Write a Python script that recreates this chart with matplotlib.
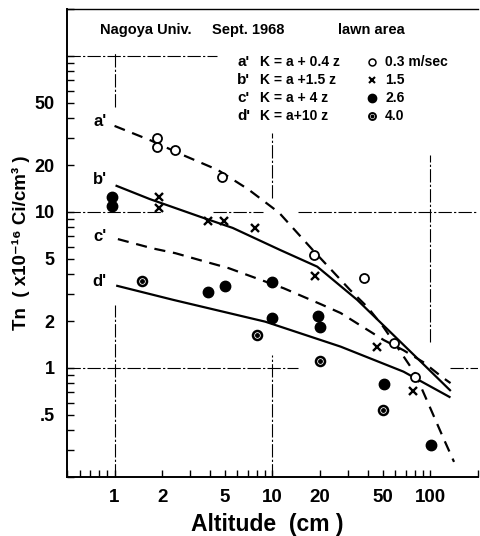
import numpy as np
import matplotlib
matplotlib.use("Agg")
import matplotlib.pyplot as plt
from matplotlib.ticker import FixedLocator, LogLocator, NullFormatter

plt.rcParams['font.family'] = ['Liberation Sans', 'DejaVu Sans']
plt.rcParams['font.weight'] = 'bold'

# observed Tn (x1e-16 Ci/cm3) vs altitude (cm), by wind speed
x_03 = [1.85, 1.85, 2.4, 4.8, 18.4, 38, 58.6, 80]
y_03 = [30, 26.2, 25, 16.7, 5.3, 3.75, 1.44, 0.88]
x_15 = [1.9, 1.9, 3.9, 4.9, 7.8, 18.7, 46, 78]
y_15 = [12.5, 10.6, 8.7, 8.7, 7.9, 3.9, 1.36, 0.71]
x_26 = [0.97, 0.97, 3.9, 5.0, 10, 10, 19.5, 20, 51, 101]
y_26 = [12.4, 10.9, 3.07, 3.36, 3.57, 2.08, 2.15, 1.84, 0.79, 0.32]
x_40 = [1.5, 8.0, 20, 50]
y_40 = [3.6, 1.63, 1.11, 0.54]

# calculated profiles a' .. d'
a_x = [1.0, 1.7, 2.7, 4.5, 7.0, 11, 18, 31, 40, 50, 62, 80, 100, 120, 141]
a_y = [35.6, 28.7, 23.2, 18.6, 14.0, 9.9, 5.7, 3.16, 2.45, 1.85, 1.35, 0.92, 0.55, 0.36, 0.25]
b_x = [1.03, 1.67, 3.5, 5.6, 11.2, 19.2, 34.4, 50, 80, 133]
b_y = [14.7, 12.1, 9.3, 7.9, 5.7, 4.46, 2.73, 1.89, 1.19, 0.72]
c_x = [1.05, 1.73, 2.43, 3.76, 5.29, 11.8, 20.1, 27, 50.6, 67.4, 90, 121, 134]
c_y = [6.7, 5.85, 5.44, 4.80, 4.36, 3.24, 2.57, 2.25, 1.51, 1.30, 1.09, 0.86, 0.80]
d_x = [1.04, 2.36, 9.0, 27, 67.5, 132]
d_y = [3.36, 2.73, 1.98, 1.37, 0.947, 0.652]

x_ticks = [1, 2, 5, 10, 20, 50, 100]
y_ticks = [0.5, 1, 2, 5, 10, 20, 50]
y_ticklabels = ['.5', '1', '2', '5', '10', '20', '50']

fig = plt.figure(figsize=(4.81, 5.36), dpi=100, facecolor="white")
ax = fig.add_axes([67/481, 59/536, 411/481, 468/536])
ax.set_xscale("log")
ax.set_yscale("log")
ax.set_xlim(0.5, 200)
ax.set_ylim(0.2, 200)

# broken reference lines at the decades
gl = dict(color="black", lw=0.8, ls=(0, (12, 2, 2, 2)))
ax.axhline(100, 0, 0.365, **gl)
for lo, hi in [(0, 0.229), (0.355, 0.477), (0.562, 1.0)]:
    ax.axhline(10, lo, hi, **gl)
for lo, hi in [(0, 0.562), (0.932, 1.0)]:
    ax.axhline(1, lo, hi, **gl)
for lo, hi in [(0.791, 0.908), (0, 0.368)]:
    ax.axvline(1, lo, hi, **gl)
for lo, hi in [(0.596, 0.735), (0, 0.261)]:
    ax.axvline(10, lo, hi, **gl)
ax.axvline(100, 0.288, 0.688, **gl)

dash = (0, (5, 3.5))
ax.plot(a_x, a_y, c="black", lw=1.6, ls=dash)
ax.plot(b_x, b_y, c="black", lw=1.6)
ax.plot(c_x, c_y, c="black", lw=1.6, ls=dash)
ax.plot(d_x, d_y, c="black", lw=1.6)

ax.plot(x_03, y_03, "o", ms=6.5, mfc="white", mec="black", mew=1.3)
ax.plot(x_15, y_15, "x", ms=5.5, mec="black", mew=1.7)
ax.plot(x_26, y_26, "o", ms=7.5, mfc="black", mec="black")
ax.plot(x_40, y_40, "o", ms=6.5, mfc="white", mec="black", mew=1.8)
ax.plot(x_40, y_40, "o", ms=2.5, mfc="black", mec="black")

# curve labels
for s, yy in [("a'", 0.759), ("b'", 0.635), ("c'", 0.513), ("d'", 0.417)]:
    ax.text(0.080, yy, s, transform=ax.transAxes, fontsize=12, ha="center", va="center")

# header and key
ax.text(0.080, 0.955, "Nagoya Univ.", transform=ax.transAxes, fontsize=10.5, va="center")
ax.text(0.353, 0.955, "Sept. 1968", transform=ax.transAxes, fontsize=10.5, va="center")
ax.text(0.659, 0.955, "lawn area", transform=ax.transAxes, fontsize=10.5, va="center")

key_letters = ["a'", "b'", "c'", "d'"]
key_formulas = ["K = a + 0.4 z", "K = a +1.5 z", "K = a + 4 z", "K = a+10 z"]
key_speeds = ["0.3 m/sec", "1.5", "2.6", "4.0"]
rows = [0.887, 0.848, 0.810, 0.771]
for i in range(4):
    ax.text(0.414, rows[i], key_letters[i], transform=ax.transAxes, fontsize=11, va="center")
    ax.text(0.470, rows[i], key_formulas[i], transform=ax.transAxes, fontsize=10, va="center")
    ax.text(0.774, rows[i], key_speeds[i], transform=ax.transAxes, fontsize=10, va="center")
mx = 0.742
ax.plot([mx], [rows[0]], "o", ms=5, mfc="white", mec="black", mew=1.1, transform=ax.transAxes)
ax.plot([mx], [rows[1]], "x", ms=4, mec="black", mew=1.5, transform=ax.transAxes)
ax.plot([mx], [rows[2]], "o", ms=6, mfc="black", mec="black", transform=ax.transAxes)
ax.plot([mx], [rows[3]], "o", ms=5, mfc="white", mec="black", mew=1.4, transform=ax.transAxes)
ax.plot([mx], [rows[3]], "o", ms=1.8, mfc="black", mec="black", transform=ax.transAxes)

# axes styling
ax.spines["right"].set_visible(False)
ax.spines["top"].set_linewidth(1.0)
ax.spines["left"].set_linewidth(1.4)
ax.spines["bottom"].set_linewidth(1.4)

ax.xaxis.set_major_locator(FixedLocator(x_ticks))
ax.set_xticklabels([str(v) for v in x_ticks])
ax.xaxis.set_minor_locator(LogLocator(base=10, subs=np.arange(1, 10)))
ax.xaxis.set_minor_formatter(NullFormatter())
ax.yaxis.set_major_locator(FixedLocator(y_ticks))
ax.set_yticklabels(y_ticklabels)
ax.yaxis.set_minor_locator(LogLocator(base=10, subs=np.arange(1, 10)))
ax.yaxis.set_minor_formatter(NullFormatter())
ax.tick_params(which="both", direction="in", length=5, width=1.0, top=False, right=False)
ax.tick_params(axis="x", which="major", labelsize=13.5, pad=9)
ax.tick_params(axis="y", which="major", labelsize=13, pad=9)

fig.text(267/481, 1 - 525/536, "Altitude  (cm )", fontsize=16.5, ha="center", va="center")
fig.text(21/481, 1 - 243/536, "Tn  ( x10\u207b\u00b9\u2076 Ci/cm\u00b3 )", fontsize=13.5,
         rotation=90, ha="center", va="center")

plt.savefig("out.png", dpi=100, facecolor="white")
